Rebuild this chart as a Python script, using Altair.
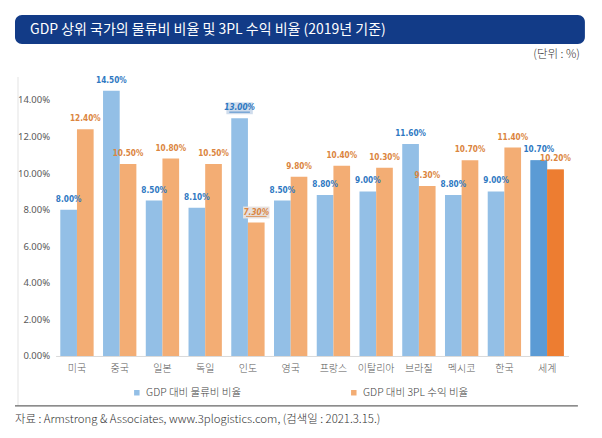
import altair as alt
import pandas as pd

countries = ["미국", "중국", "일본", "독일", "인도", "영국", "프랑스", "이탈리아", "브라질", "멕시코", "한국", "세계"]
series_names = ["GDP 대비 물류비 비율", "GDP 대비 3PL 수익 비율"]
logistics = [8.0, 14.5, 8.5, 8.1, 13.0, 8.5, 8.8, 9.0, 11.6, 8.8, 9.0, 10.7]
tpl = [12.4, 10.5, 10.8, 10.5, 7.3, 9.8, 10.4, 10.3, 9.3, 10.7, 11.4, 10.2]
y_ticks = [0, 2, 4, 6, 8, 10, 12, 14]
highlight_country = "인도"
world = "세계"

title_text = "GDP 상위 국가의 물류비 비율 및 3PL 수익 비율 (2019년 기준)"
unit_text = "(단위 : %)"
source_text = "자료 : Armstrong & Associates, www.3plogistics.com, (검색일 : 2021.3.15.)"

rows = []
for c, a, b in zip(countries, logistics, tpl):
    rows.append({"country": c, "series": series_names[0], "value": a, "label": f"{a:.2f}%"})
    rows.append({"country": c, "series": series_names[1], "value": b, "label": f"{b:.2f}%"})
df = pd.DataFrame(rows)
one = pd.DataFrame({"k": [0]})

KR = "Noto Sans CJK KR"
LBL = "DejaVu Sans Condensed"
BLUE_L, ORANGE_L = "#93bfe6", "#f3ad74"
BLUE_D, ORANGE_D = "#5b9bd5", "#ed7d31"
BLUE_T, ORANGE_T = "#2e78c2", "#db8540"

x_enc = alt.X("country:N", sort=countries, title=None,
              scale=alt.Scale(paddingInner=0.22, paddingOuter=0.11),
              axis=alt.Axis(labelAngle=0, ticks=False, domainColor="#d9d9d9",
                            labelColor="#595959", labelFont=KR, labelFontSize=10,
                            labelFontWeight=300, labelPadding=8))
y_enc = alt.Y("value:Q", title=None, scale=alt.Scale(domain=[0, 16], nice=False),
              axis=alt.Axis(values=y_ticks, domain=False, ticks=False, grid=False,
                            labelExpr="format(datum.value, '.2f') + '%'",
                            labelColor="#595959", labelFont="Noto Sans", labelFontSize=9.5,
                            labelPadding=6))
xo = alt.XOffset("series:N", sort=series_names, scale=alt.Scale(domain=series_names))

base = alt.Chart(df)

bars = base.mark_bar().encode(
    x=x_enc, y=y_enc, xOffset=xo,
    color=alt.Color("series:N", sort=series_names,
                    scale=alt.Scale(domain=series_names, range=[BLUE_L, ORANGE_L]),
                    legend=alt.Legend(title=None, orient="none", direction="horizontal",
                                      legendX=76, legendY=324, symbolType="square",
                                      symbolSize=30, symbolStrokeWidth=0,
                                      labelFont=KR, labelFontSize=10.5, labelFontWeight=300,
                                      labelColor="#404040",
                                      columnPadding=107, padding=0, labelOffset=4)),
)

world_blue = base.transform_filter(
    (alt.datum.country == world) & (alt.datum.series == series_names[0])
).mark_bar(color=BLUE_D).encode(x=x_enc, y=y_enc, xOffset=xo)
world_orange = base.transform_filter(
    (alt.datum.country == world) & (alt.datum.series == series_names[1])
).mark_bar(color=ORANGE_D).encode(x=x_enc, y=y_enc, xOffset=xo)

not_hl = alt.datum.country != highlight_country
is_hl = alt.datum.country == highlight_country

lbl_blue = base.transform_filter(not_hl & (alt.datum.series == series_names[0])).mark_text(
    font=LBL, fontWeight="bold", fontSize=8.2, color=BLUE_T, baseline="middle", dy=-10
).encode(x=x_enc, y=y_enc, xOffset=xo, text="label:N")
lbl_orange = base.transform_filter(not_hl & (alt.datum.series == series_names[1])).mark_text(
    font=LBL, fontWeight="bold", fontSize=8.2, color=ORANGE_T, baseline="middle", dy=-10
).encode(x=x_enc, y=y_enc, xOffset=xo, text="label:N")

box_path = "M-1,-0.45H1V0.45H-1Z"
line_path = "M-0.78,0.26H0.78V0.32H-0.78Z"
hl_box_blue = base.transform_filter(is_hl & (alt.datum.series == series_names[0])).mark_point(
    shape=box_path, filled=True, size=700, color="#cfdcec", opacity=1, yOffset=-10
).encode(x=x_enc, y=y_enc, xOffset=xo)
hl_box_orange = base.transform_filter(is_hl & (alt.datum.series == series_names[1])).mark_point(
    shape=box_path, filled=True, size=700, color="#e6e1df", opacity=1, yOffset=-10
).encode(x=x_enc, y=y_enc, xOffset=xo)
hl_line_blue = base.transform_filter(is_hl & (alt.datum.series == series_names[0])).mark_point(
    shape=line_path, filled=True, size=700, color=BLUE_T, opacity=1, yOffset=-10
).encode(x=x_enc, y=y_enc, xOffset=xo)
hl_line_orange = base.transform_filter(is_hl & (alt.datum.series == series_names[1])).mark_point(
    shape=line_path, filled=True, size=700, color=ORANGE_T, opacity=1, yOffset=-10
).encode(x=x_enc, y=y_enc, xOffset=xo)
hl_lbl_blue = base.transform_filter(is_hl & (alt.datum.series == series_names[0])).mark_text(
    font=LBL, fontWeight="bold", fontStyle="italic", fontSize=8.2, color=BLUE_T,
    baseline="middle", dy=-10
).encode(x=x_enc, y=y_enc, xOffset=xo, text="label:N")
hl_lbl_orange = base.transform_filter(is_hl & (alt.datum.series == series_names[1])).mark_text(
    font=LBL, fontWeight="bold", fontStyle="italic", fontSize=8.2, color=ORANGE_T,
    baseline="middle", dy=-10
).encode(x=x_enc, y=y_enc, xOffset=xo, text="label:N")

# decorations
deco = alt.Chart(one)
title_bar = deco.mark_rect(color="#123b87", cornerRadius=7).encode(
    x=alt.value(-40.6), x2=alt.value(529.4), y=alt.value(-48.4), y2=alt.value(-19.4))
title_txt = deco.mark_text(text=title_text, font=KR, fontSize=14, fontWeight=400,
                           color="white", align="left", baseline="middle").encode(
    x=alt.value(-25.6), y=alt.value(-33.9))
unit_txt = deco.mark_text(text=unit_text, font=KR, fontSize=11.5, fontWeight=300,
                          color="#333333", align="right", baseline="middle").encode(
    x=alt.value(524.4), y=alt.value(-8.4))
left_line = deco.mark_rule(color="#e3e3e3", strokeWidth=1).encode(
    x=alt.value(-37.6), y=alt.value(13.6), y2=alt.value(342.6))
bottom_line = deco.mark_rule(color="#666666", strokeWidth=1.3).encode(
    x=alt.value(-40.6), x2=alt.value(522.4), y=alt.value(342.6))
source_txt = deco.mark_text(text=source_text, font=KR, fontSize=11.4, fontWeight=300,
                            color="#333333", align="left", baseline="middle").encode(
    x=alt.value(-40.6), y=alt.value(356.6))

chart = alt.layer(
    bars, world_blue, world_orange, lbl_blue, lbl_orange,
    hl_box_blue, hl_box_orange, hl_line_blue, hl_line_orange, hl_lbl_blue, hl_lbl_orange,
    title_bar, title_txt, unit_txt, left_line, bottom_line, source_txt,
).properties(
    width=513, height=292.6,
    autosize=alt.AutoSizeParams(type="none"),
    padding={"left": 47.6, "top": 55.4, "right": 25.5, "bottom": 74},
    background="white",
).configure_view(stroke=None)

chart.save("out.html", embed_options={"renderer": "svg", "actions": False})
